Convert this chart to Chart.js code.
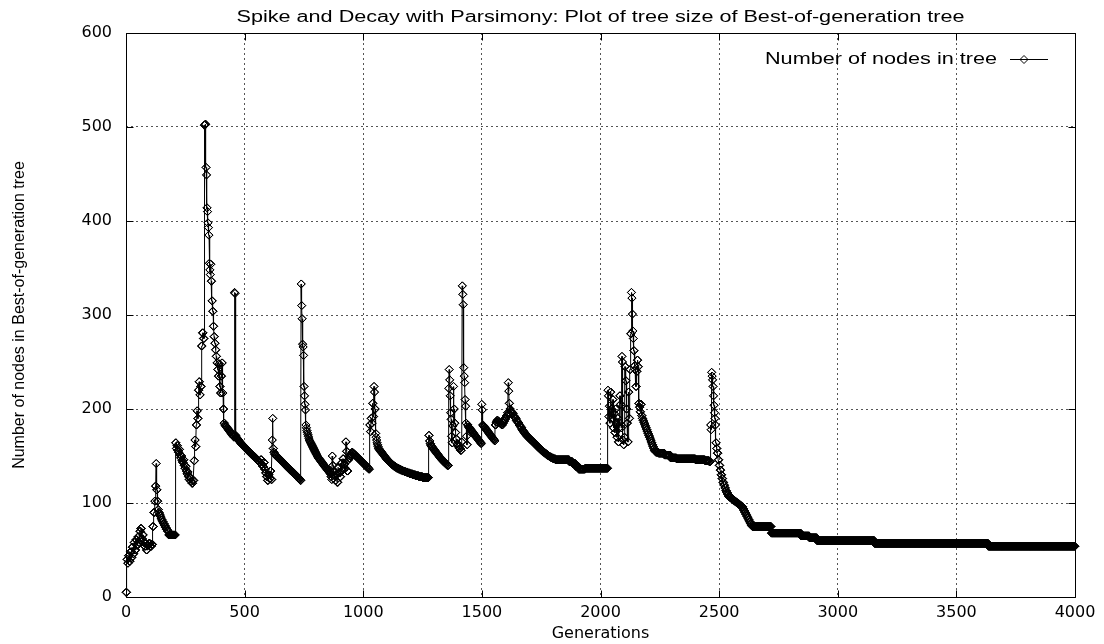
<!DOCTYPE html>
<html>
<head>
<meta charset="utf-8">
<title>Spike and Decay with Parsimony</title>
<script src="https://cdn.jsdelivr.net/npm/chart.js@4.4.1/dist/chart.umd.min.js"></script>
<style>
  html, body { margin: 0; padding: 0; background: #fff; }
</style>
</head>
<body>
<canvas id="treeChart" width="1104" height="644"></canvas>
<script>
// best-of-generation tree size; each size holds until the next listed generation
const changeGen = [
  0, 4, 7, 10, 14, 18, 22, 26, 30, 34, 38, 42, 46, 50, 54, 58, 62, 66, 70, 74, 78, 82, 86, 90, 96, 102, 108,
  113, 117, 121, 124, 127, 129, 132, 135, 138, 141, 144, 147, 150, 154, 158, 162, 166, 170, 175, 180,
  209, 212, 215, 218, 221, 224, 227, 230, 233, 236, 239, 242, 245, 248, 251, 254, 257, 260, 263, 266, 270, 274, 278, 282,
  287, 290, 293, 296, 299, 302, 305, 308, 311, 314, 318, 322, 326, 330, 334, 337, 339, 341, 343, 345, 347, 349,
  351, 353, 355, 357, 359, 362, 365, 368, 371, 374, 377, 380, 383, 386, 389, 392, 395, 398, 401, 404, 407, 410,
  413, 416, 419, 422, 425, 428, 431, 434, 437, 440, 443, 446, 449, 452, 455, 457, 459,
  461, 464, 467, 470, 473, 476, 479, 482, 485, 488, 492, 496, 500, 504, 508, 512, 516, 520, 524, 528, 532, 536,
  540, 544, 548, 552, 556, 560, 564, 568, 572, 576, 580, 584, 588, 592, 596, 600, 604, 608, 612, 616, 618,
  620, 623, 626, 629, 632, 636, 640, 644, 648, 652, 656, 660, 664, 668, 672, 676, 680, 684, 688, 692, 696,
  700, 704, 708, 712, 716, 720, 724, 728, 732, 735,
  738, 740, 742, 744, 746, 748, 750, 752, 754, 756, 758,
  760, 762, 764, 766, 768, 770, 772, 774, 776, 778, 780, 782, 784, 786, 788, 790, 792, 794, 796, 798, 800, 802,
  804, 806, 808, 810, 813, 816, 819, 822, 825, 828, 831, 834, 837, 840, 843, 846, 849, 852, 855, 858, 861,
  864, 867, 869, 871, 874, 878, 882, 886, 890, 894, 898, 902, 906, 910, 914, 918, 922, 926, 929, 932,
  936, 940, 944, 948, 952, 956, 960, 964, 968, 972, 976, 980, 984, 988, 992, 996, 1000, 1004, 1008, 1012, 1016, 1020, 1024,
  1027, 1030, 1033, 1036, 1039, 1042, 1045, 1047, 1049,
  1052, 1054, 1056, 1058, 1060, 1062, 1064, 1067, 1070, 1073, 1076, 1079, 1082, 1085, 1088, 1091, 1094, 1097, 1100,
  1104, 1108, 1112, 1116, 1120, 1125, 1130, 1136, 1142, 1150, 1158, 1166, 1176, 1186, 1196, 1208, 1220, 1234, 1250,
  1276, 1279, 1282, 1285, 1288, 1291, 1294, 1297, 1300, 1303, 1306, 1309, 1312, 1315, 1318, 1321, 1324, 1327, 1330,
  1334, 1338, 1342, 1346, 1350, 1354,
  1360, 1362, 1364, 1366, 1368, 1370, 1372, 1374, 1377, 1380, 1382, 1385, 1388, 1391, 1395, 1400, 1405, 1410, 1414,
  1417, 1419, 1421, 1423, 1425, 1427, 1429, 1431, 1433, 1435, 1437,
  1440, 1443, 1446, 1449, 1452, 1455, 1458, 1461, 1464, 1467, 1470, 1473, 1476, 1479, 1482, 1485, 1488, 1491, 1494,
  1497, 1499, 1501,
  1503, 1506, 1509, 1512, 1515, 1518, 1521, 1524, 1527, 1530, 1533, 1536, 1539, 1542, 1545, 1548, 1551, 1554,
  1556, 1560, 1564, 1568, 1572, 1576, 1580, 1584, 1588, 1592, 1596, 1600, 1604, 1608, 1611, 1613, 1615,
  1618, 1621, 1624, 1627, 1630, 1633, 1636, 1639, 1642, 1645, 1648, 1651, 1654, 1657, 1660, 1663, 1666, 1669, 1672,
  1675, 1678, 1681, 1684, 1687, 1690, 1694, 1698, 1702, 1706, 1710, 1714, 1718, 1722, 1726, 1730, 1734, 1738, 1742,
  1746, 1750, 1755, 1760, 1765, 1770, 1775, 1780, 1786, 1792, 1800, 1810, 1868, 1882, 1895, 1908, 1935,
  2031, 2033, 2035, 2037, 2039, 2042, 2045, 2048, 2051, 2054, 2057, 2060, 2063, 2066, 2069, 2072, 2075, 2078,
  2081, 2084, 2087, 2090, 2092, 2094, 2097, 2100, 2103, 2106, 2109, 2112, 2115, 2118, 2121, 2124, 2127, 2130,
  2132, 2134, 2136, 2138, 2140, 2143, 2146, 2149, 2152, 2155, 2158,
  2161, 2164, 2167, 2170, 2173, 2176, 2179, 2182, 2185, 2188, 2191, 2194, 2197, 2200, 2203, 2206, 2209, 2212,
  2215, 2218, 2221, 2224, 2227, 2230, 2234, 2245, 2270, 2295, 2320, 2400, 2440, 2458,
  2464, 2466, 2468, 2470, 2472, 2474, 2476, 2478, 2480, 2482, 2484, 2486, 2489, 2492, 2496, 2500, 2504, 2508,
  2512, 2516, 2520, 2524, 2528, 2532, 2536, 2540, 2545, 2550, 2555, 2560, 2565, 2570, 2575, 2580, 2585, 2590,
  2595, 2600, 2604, 2608, 2612, 2616, 2620, 2624, 2628, 2632, 2636, 2640, 2720, 2845, 2880, 2912, 3155, 3635
];
const nodeCount = [
  5, 40, 36, 44, 38, 48, 42, 53, 46, 58, 50, 61, 55, 64, 58, 70, 73, 62, 66, 58, 54, 57, 50, 55, 57, 54, 56,
  75, 90, 102, 118, 142, 114, 102, 93, 90, 88, 86, 84, 82, 80, 78, 76, 74, 72, 70, 66,
  164, 158, 161, 156, 154, 157, 151, 148, 150, 145, 143, 146, 140, 137, 139, 134, 131, 133, 128, 125, 127, 123, 121, 124,
  145, 167, 160, 183, 198, 190, 220, 229, 215, 224, 267, 281, 275, 502, 503, 457, 449, 414, 410, 398, 393, 385,
  355, 348, 343, 354, 336, 315, 304, 288, 277, 270, 263, 256, 249, 242, 235, 248, 224, 217, 235, 249, 217, 200,
  185, 183, 182, 181, 180, 179, 178, 177, 176, 175, 174, 173, 172, 171, 170, 324, 323,
  172, 170, 169, 168, 167, 166, 165, 164, 163, 162, 161, 160, 159, 158, 157, 156, 155, 154, 153, 152, 151, 150,
  149, 148, 147, 146, 145, 144, 143, 146, 141, 139, 143, 136, 132, 128, 124, 130, 126, 134, 125, 167, 190,
  158, 154, 152, 151, 150, 149, 148, 147, 146, 145, 144, 143, 142, 141, 140, 139, 138, 137, 136, 135, 134,
  133, 132, 131, 130, 129, 128, 127, 126, 125, 124,
  333, 310, 296, 269, 266, 257, 224, 214, 205, 199, 183,
  180, 177, 175, 173, 171, 169, 167, 166, 165, 164, 163, 162, 161, 160, 159, 158, 157, 156, 155, 154, 153, 152,
  151, 150, 149, 148, 147, 146, 145, 144, 143, 142, 141, 140, 139, 138, 137, 136, 135, 134, 133, 132, 131,
  128, 125, 150, 140, 133, 129, 124, 130, 122, 138, 132, 128, 142, 135, 147, 141, 137, 165, 155, 134,
  146, 148, 150, 152, 154, 153, 152, 151, 150, 149, 148, 147, 146, 145, 144, 143, 142, 141, 140, 139, 138, 137, 136,
  183, 176, 190, 185, 206, 192, 224, 218, 200,
  174, 170, 167, 164, 162, 160, 158, 157, 156, 155, 154, 153, 152, 151, 150, 149, 148, 147, 146,
  145, 144, 143, 142, 141, 140, 139, 138, 137, 136, 135, 134, 133, 132, 131, 130, 129, 128, 127,
  172, 166, 163, 161, 160, 159, 158, 157, 156, 155, 154, 153, 152, 151, 150, 149, 148, 147, 146,
  145, 144, 143, 142, 141, 140,
  222, 242, 231, 214, 196, 189, 171, 164, 182, 224, 200, 185, 175, 168, 163, 160, 158, 156, 165,
  331, 322, 311, 244, 235, 228, 210, 203, 185, 171, 162,
  183, 181, 180, 179, 178, 177, 176, 175, 174, 173, 172, 171, 170, 169, 168, 167, 166, 165, 164,
  163, 205, 199,
  183, 182, 181, 180, 179, 178, 177, 176, 175, 174, 173, 172, 171, 170, 169, 168, 167, 166,
  183, 186, 188, 187, 186, 185, 184, 183, 185, 187, 189, 191, 193, 196, 228, 219, 206,
  200, 198, 197, 196, 195, 193, 192, 191, 190, 188, 187, 186, 185, 183, 182, 181, 180, 178, 177,
  176, 175, 174, 173, 172, 171, 170, 169, 168, 167, 166, 165, 164, 163, 162, 161, 160, 159, 158,
  157, 156, 155, 154, 153, 152, 151, 150, 149, 148, 147, 146, 144, 142, 139, 136, 137,
  220, 214, 192, 203, 185, 218, 200, 190, 210, 180, 195, 175, 200, 185, 170, 190, 165, 180,
  214, 205, 180, 256, 250, 167, 162, 170, 245, 230, 200, 185, 165, 218, 190, 242, 280, 324,
  318, 301, 283, 275, 262, 246, 242, 224, 240, 252, 245,
  206, 202, 197, 205, 193, 190, 188, 186, 184, 182, 180, 178, 176, 174, 172, 170, 168, 166,
  164, 162, 160, 158, 156, 155, 154, 153, 151, 148, 147, 146, 145, 144,
  183, 178, 239, 235, 231, 224, 214, 204, 196, 190, 183, 164, 158, 153, 146, 140, 135, 130,
  126, 122, 119, 116, 113, 111, 109, 107, 106, 105, 104, 103, 102, 101, 100, 99, 98, 97,
  96, 94, 92, 90, 88, 86, 84, 82, 80, 78, 76, 75, 68, 65, 63, 60, 57, 54
];
const lastGen = 4000;
const xTicks = [0, 500, 1000, 1500, 2000, 2500, 3000, 3500, 4000];
const yTicks = [0, 100, 200, 300, 400, 500, 600];

const titleText = 'Spike and Decay with Parsimony: Plot of tree size of Best-of-generation tree';
const legendText = 'Number of nodes in tree';
const tickFont = { family: '"DejaVu Sans"', size: 16 };

const points = [];
let k = 0;
for (let g = 0; g <= lastGen; g++) {
  while (k + 1 < changeGen.length && changeGen[k + 1] <= g) k++;
  points.push({ x: g, y: nodeCount[k] });
}

// stretched text like the gnuplot output
function wideText(ctx, text, x, y, align, targetWidth) {
  const w = ctx.measureText(text).width;
  ctx.save();
  ctx.translate(x, y);
  ctx.scale(targetWidth / w, 1);
  ctx.textAlign = align;
  ctx.fillText(text, 0, 0);
  ctx.restore();
}

const frame = {
  id: 'frame',
  afterDraw(chart) {
    const ctx = chart.ctx;
    const a = chart.chartArea;
    const xs = chart.scales.x, ys = chart.scales.y;
    const L = Math.round(a.left) + 0.5, R = Math.round(a.right) + 0.5;
    const T = Math.round(a.top) + 0.5, B = Math.round(a.bottom) + 0.5;
    ctx.save();
    ctx.strokeStyle = '#000';
    ctx.lineWidth = 1;
    ctx.beginPath();
    ctx.rect(L, T, R - L, B - T);
    xTicks.forEach(v => {
      const px = Math.round(xs.getPixelForValue(v)) + 0.5;
      ctx.moveTo(px, B); ctx.lineTo(px, B - 7);
      ctx.moveTo(px, T); ctx.lineTo(px, T + 7);
    });
    yTicks.forEach(v => {
      const py = Math.round(ys.getPixelForValue(v)) + 0.5;
      ctx.moveTo(L, py); ctx.lineTo(L + 7, py);
      ctx.moveTo(R, py); ctx.lineTo(R - 7, py);
    });
    ctx.stroke();

    ctx.fillStyle = '#000';
    ctx.textBaseline = 'alphabetic';
    ctx.font = '16px "Liberation Sans"';
    wideText(ctx, titleText, (a.left + a.right) / 2, 22, 'center', 728);
    wideText(ctx, legendText, 997, 64, 'right', 232);

    // legend sample
    ctx.beginPath();
    ctx.moveTo(1010, 59.5); ctx.lineTo(1048, 59.5);
    ctx.moveTo(1020, 59.5); ctx.lineTo(1024, 55.5); ctx.lineTo(1028, 59.5); ctx.lineTo(1024, 63.5); ctx.closePath();
    ctx.stroke();
    ctx.restore();
  }
};

new Chart(document.getElementById('treeChart'), {
  type: 'line',
  data: {
    datasets: [{
      label: legendText,
      data: points,
      borderColor: '#000',
      borderWidth: 1,
      pointStyle: 'rectRot',
      pointRadius: 4,
      pointBorderWidth: 1,
      pointBorderColor: '#000',
      pointBackgroundColor: 'rgba(0,0,0,0)',
      tension: 0,
      fill: false,
      clip: false
    }]
  },
  options: {
    responsive: false,
    animation: false,
    events: [],
    layout: { padding: { top: 33, right: 29, bottom: 0, left: 0 } },
    plugins: {
      legend: { display: false },
      title: { display: false },
      tooltip: { enabled: false }
    },
    scales: {
      x: {
        type: 'linear',
        min: 0,
        max: 4000,
        afterBuildTicks: s => { s.ticks = xTicks.map(v => ({ value: v })); },
        afterFit: s => { s.height = 47; },
        ticks: { font: tickFont, color: '#000', padding: 6, maxRotation: 0, callback: v => String(v) },
        grid: { drawTicks: false, color: '#555', lineWidth: 1 },
        border: { display: false, dash: [2, 3] },
        title: {
          display: true,
          text: 'Generations',
          font: tickFont,
          color: '#000',
          padding: { top: 0, bottom: 1 }
        }
      },
      y: {
        type: 'linear',
        min: 0,
        max: 600,
        afterBuildTicks: s => { s.ticks = yTicks.map(v => ({ value: v })); },
        afterFit: s => { s.width = 126; },
        ticks: { font: tickFont, color: '#000', padding: 14, callback: v => String(v) },
        grid: { drawTicks: false, color: '#555', lineWidth: 1 },
        border: { display: false, dash: [2, 3] },
        title: {
          display: true,
          text: 'Number of nodes in Best-of-generation tree',
          font: { family: '"Liberation Sans"', size: 16 },
          color: '#000',
          padding: { top: 10, bottom: 0 }
        }
      }
    }
  },
  plugins: [frame]
});
</script>
</body>
</html>
